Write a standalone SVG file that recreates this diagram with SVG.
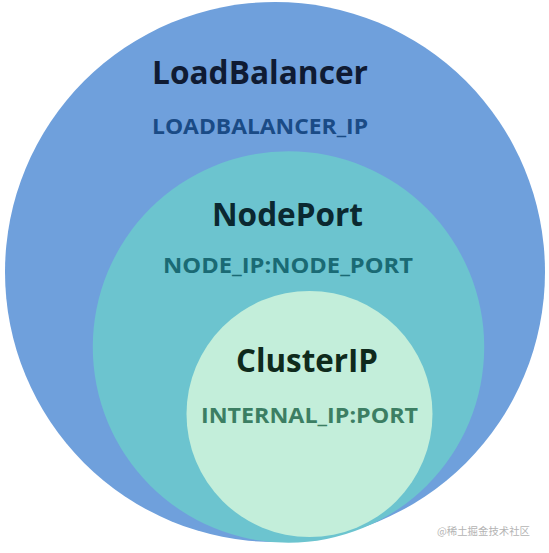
<svg xmlns="http://www.w3.org/2000/svg" width="549" height="553" viewBox="0 0 549 553">
  <style>
    .title { font-family: "Open Sans", "Liberation Sans", sans-serif; font-weight: bold; font-size: 32px; }
    .sub { font-family: "Open Sans", "Liberation Sans", sans-serif; font-weight: bold; font-size: 21px; }
    .wm { font-family: "Noto Sans CJK SC", "Noto Sans", sans-serif; font-size: 10.5px; fill: #b4b4b4; }
  </style>
  <rect x="0" y="0" width="549" height="553" fill="#ffffff"/>
  <g id="loadbalancer">
    <circle cx="275" cy="272" r="270" fill="#6fa0dc"/>
    <text class="title" x="152" y="84" textLength="216" lengthAdjust="spacingAndGlyphs" fill="#0f1b33">LoadBalancer</text>
    <text class="sub" x="152" y="134" textLength="216" lengthAdjust="spacingAndGlyphs" fill="#1a4b86">LOADBALANCER_IP</text>
  </g>
  <g id="nodeport">
    <circle cx="288.5" cy="347" r="195.7" fill="#6cc4cf"/>
    <text class="title" x="212" y="226" textLength="151" lengthAdjust="spacingAndGlyphs" fill="#0b2830">NodePort</text>
    <text class="sub" x="163" y="273" textLength="250" lengthAdjust="spacingAndGlyphs" fill="#1a6a74">NODE_IP:NODE_PORT</text>
  </g>
  <g id="clusterip">
    <circle cx="309.5" cy="414" r="123" fill="#c3eeda"/>
    <text class="title" x="236" y="372" textLength="142" lengthAdjust="spacingAndGlyphs" fill="#0f2a1c">ClusterIP</text>
    <text class="sub" x="201" y="423" textLength="217" lengthAdjust="spacingAndGlyphs" fill="#3c7e63">INTERNAL_IP:PORT</text>
  </g>
  <g id="connectors"></g>
  <text class="wm" x="437" y="535" textLength="93" lengthAdjust="spacingAndGlyphs">@稀土掘金技术社区</text>
</svg>
